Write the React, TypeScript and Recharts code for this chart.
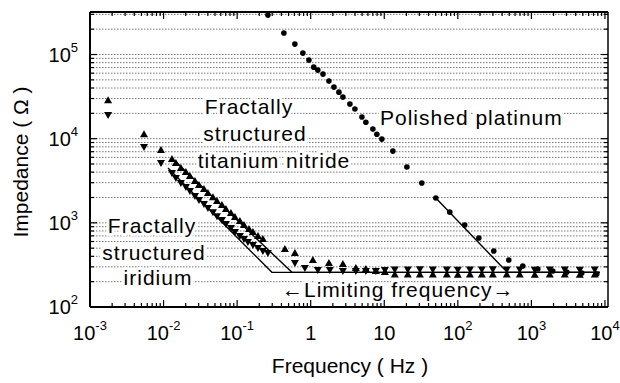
import React from 'react';
import { ComposedChart, Scatter, Line, XAxis, YAxis, CartesianGrid } from 'recharts';

const FONT = '"Liberation Sans", Arial, Helvetica, sans-serif';
const W = 620;
const H = 383;
const MARGIN = { top: 11, right: 11, left: 0, bottom: 0 };

// axis decades and labels
const xMajor = [0.001, 0.01, 0.1, 1, 10, 100, 1000, 10000];
const xLabels: [string, string][] = [
  ['10', '-3'], ['10', '-2'], ['10', '-1'], ['1', ''], ['10', ''], ['10', '2'], ['10', '3'], ['10', '4'],
];
const yMajor = [100, 1000, 10000, 100000];
const yLabels: [string, string][] = [['10', '2'], ['10', '3'], ['10', '4'], ['10', '5']];
const minorSteps = [2, 3, 4, 5, 6, 7, 8, 9];
const xDomain = [0.001, 11000];
const yDomain = [100, 320000];

const xTicks = [...xMajor, ...xMajor.slice(0, -1).flatMap((d) => minorSteps.map((m) => d * m))];
const yTicks = [...yMajor, ...yMajor.flatMap((d) => minorSteps.map((m) => d * m))].filter(
  (v) => v <= yDomain[1]
);

// polished platinum (filled circles)
const platinum = [
  { f: 0.262, z: 294000 }, { f: 0.432, z: 180000 }, { f: 0.609, z: 133000 }, { f: 0.783, z: 104000 },
  { f: 0.946, z: 85800 }, { f: 1.1, z: 70800 }, { f: 1.25, z: 65300 }, { f: 1.47, z: 58500 },
  { f: 1.77, z: 48300 }, { f: 2.07, z: 41000 }, { f: 2.42, z: 35700 }, { f: 2.74, z: 31200 },
  { f: 3.41, z: 25800 }, { f: 3.99, z: 22500 }, { f: 4.97, z: 18100 }, { f: 5.62, z: 15700 },
  { f: 7.0, z: 13000 }, { f: 7.93, z: 11300 }, { f: 9.27, z: 9890 }, { f: 13.1, z: 7120 },
  { f: 20.3, z: 4600 }, { f: 32.4, z: 2970 }, { f: 50.2, z: 1970 }, { f: 77.8, z: 1340 },
  { f: 124, z: 942 }, { f: 193, z: 660 }, { f: 308, z: 462 }, { f: 493, z: 362 },
  { f: 764, z: 307 }, { f: 1222, z: 283 }, { f: 1954, z: 268 }, { f: 3027, z: 260 },
  { f: 4842, z: 253 }, { f: 7745, z: 247 },
];

// fractally structured titanium nitride (up triangles)
const titanium = [
  { f: 0.00176, z: 28700 }, { f: 0.00542, z: 11300 }, { f: 0.00922, z: 7320 }, { f: 0.013, z: 5720 },
  { f: 0.0147, z: 5130 }, { f: 0.0172, z: 4480 }, { f: 0.0201, z: 4010 }, { f: 0.0228, z: 3600 },
  { f: 0.0267, z: 3140 }, { f: 0.0303, z: 2810 }, { f: 0.0354, z: 2520 }, { f: 0.0401, z: 2260 },
  { f: 0.0469, z: 2020 }, { f: 0.0532, z: 1820 }, { f: 0.0621, z: 1630 }, { f: 0.0704, z: 1460 },
  { f: 0.0824, z: 1310 }, { f: 0.0933, z: 1170 }, { f: 0.109, z: 1050 }, { f: 0.124, z: 942 },
  { f: 0.145, z: 844 }, { f: 0.164, z: 778 }, { f: 0.192, z: 697 }, { f: 0.224, z: 642 },
  { f: 0.446, z: 488 }, { f: 0.61, z: 438 }, { f: 1.07, z: 362 }, { f: 1.77, z: 333 },
  { f: 2.74, z: 324 }, { f: 4.11, z: 290 }, { f: 5.62, z: 283 }, { f: 7.69, z: 268 },
  { f: 10.2, z: 260 }, { f: 13.9, z: 243 }, { f: 20.9, z: 243 }, { f: 30.5, z: 244 },
  { f: 45.7, z: 243 }, { f: 70.9, z: 243 }, { f: 100, z: 242 }, { f: 146, z: 243 },
  { f: 212, z: 243 }, { f: 299, z: 244 }, { f: 463, z: 243 }, { f: 695, z: 243 },
  { f: 1112, z: 242 }, { f: 1778, z: 243 }, { f: 2843, z: 243 }, { f: 4547, z: 242 },
  { f: 7266, z: 243 },
];

// fractally structured iridium (down triangles)
const iridium = [
  { f: 0.00176, z: 19100 }, { f: 0.00542, z: 7950 }, { f: 0.00922, z: 5130 }, { f: 0.013, z: 3900 },
  { f: 0.0147, z: 3400 }, { f: 0.0172, z: 2970 }, { f: 0.0201, z: 2660 }, { f: 0.0228, z: 2390 },
  { f: 0.0267, z: 2080 }, { f: 0.0303, z: 1870 }, { f: 0.0354, z: 1670 }, { f: 0.0401, z: 1500 },
  { f: 0.0469, z: 1340 }, { f: 0.0532, z: 1200 }, { f: 0.0621, z: 1080 }, { f: 0.0704, z: 968 },
  { f: 0.0824, z: 867 }, { f: 0.0933, z: 778 }, { f: 0.109, z: 697 }, { f: 0.124, z: 642 },
  { f: 0.14, z: 591 }, { f: 0.164, z: 545 }, { f: 0.192, z: 502 }, { f: 0.224, z: 462 },
  { f: 0.262, z: 438 }, { f: 0.61, z: 333 }, { f: 0.834, z: 290 }, { f: 1.25, z: 275 },
  { f: 1.82, z: 275 }, { f: 2.74, z: 268 }, { f: 4.11, z: 268 }, { f: 5.62, z: 268 },
  { f: 7.69, z: 268 }, { f: 10.2, z: 275 }, { f: 13.9, z: 279 }, { f: 20.9, z: 279 },
  { f: 30.5, z: 280 }, { f: 45.7, z: 279 }, { f: 70.9, z: 279 }, { f: 100, z: 278 },
  { f: 146, z: 279 }, { f: 212, z: 279 }, { f: 299, z: 280 }, { f: 463, z: 279 },
  { f: 695, z: 279 }, { f: 1112, z: 278 }, { f: 1778, z: 279 }, { f: 2843, z: 279 },
  { f: 4547, z: 278 }, { f: 7266, z: 279 },
];

// fitted lines with limiting frequency plateau
const iridiumFit = [{ f: 0.0115, z: 4480 }, { f: 0.297, z: 258 }, { f: 8500, z: 258 }];
const titaniumFit = [{ f: 0.0143, z: 5420 }, { f: 0.556, z: 258 }, { f: 8500, z: 258 }];
const platinumFit = [{ f: 50.2, z: 1970 }, { f: 470, z: 258 }, { f: 8500, z: 258 }];

const isMajor = (v: number) => Math.abs(Math.log10(v) - Math.round(Math.log10(v))) < 1e-6;
const tickLen = (v: number) => (isMajor(v) ? 7 : 4);

const BottomTick = (props: any) => {
  const { x, y, payload } = props;
  const v = payload.value;
  const i = xMajor.findIndex((m) => Math.abs(Math.log10(m) - Math.log10(v)) < 1e-6);
  return (
    <g>
      <line x1={x} x2={x} y1={y} y2={y - tickLen(v)} stroke="#000" strokeWidth={1.2} />
      {i >= 0 && (
        <text x={x} y={y + 33} textAnchor="middle" fontSize={20} fontFamily={FONT} fill="#000">
          {xLabels[i][0]}
          {xLabels[i][1] && (
            <tspan dy={-10} fontSize={13}>
              {xLabels[i][1]}
            </tspan>
          )}
        </text>
      )}
    </g>
  );
};

const TopTick = (props: any) => {
  const { x, y, payload } = props;
  return <line x1={x} x2={x} y1={y} y2={y + tickLen(payload.value)} stroke="#000" strokeWidth={1.2} />;
};

const LeftTick = (props: any) => {
  const { x, y, payload } = props;
  const v = payload.value;
  const i = yMajor.findIndex((m) => Math.abs(Math.log10(m) - Math.log10(v)) < 1e-6);
  return (
    <g>
      <line x1={x} x2={x + tickLen(v)} y1={y} y2={y} stroke="#000" strokeWidth={1.2} />
      {i >= 0 && (
        <text x={x - 12} y={y + 7} textAnchor="end" fontSize={20} fontFamily={FONT} fill="#000">
          {yLabels[i][0]}
          <tspan dy={-10} fontSize={13}>
            {yLabels[i][1]}
          </tspan>
        </text>
      )}
    </g>
  );
};

const RightTick = (props: any) => {
  const { x, y, payload } = props;
  return <line x1={x} x2={x - tickLen(payload.value)} y1={y} y2={y} stroke="#000" strokeWidth={1.2} />;
};

const TriUp = (p: any) => (
  <polygon points={`${p.cx},${p.cy - 4} ${p.cx - 4},${p.cy + 3} ${p.cx + 4},${p.cy + 3}`} fill="#000" />
);
const TriDown = (p: any) => (
  <polygon points={`${p.cx},${p.cy + 4} ${p.cx - 4},${p.cy - 3} ${p.cx + 4},${p.cy - 3}`} fill="#000" />
);
const Dot = (p: any) => <circle cx={p.cx} cy={p.cy} r={2.8} fill="#000" />;
const Nothing = () => <g />;

const halo = {
  stroke: '#fff',
  strokeWidth: 6,
  paintOrder: 'stroke' as const,
  strokeLinejoin: 'round' as const,
};

const Annotations = () => (
  <svg width={W} height={H} style={{ position: 'absolute', left: 0, top: 0 }}>
    <g fontFamily={FONT} fontSize={21} fill="#000" letterSpacing={1}>
      <text x={249} y={114} textAnchor="middle" {...halo}>Fractally</text>
      <text x={255} y={141} textAnchor="middle" {...halo}>structured</text>
      <text x={274} y={168} textAnchor="middle" {...halo}>titanium nitride</text>
      <text x={152} y={233} textAnchor="middle" {...halo}>Fractally</text>
      <text x={154} y={260} textAnchor="middle" {...halo}>structured</text>
      <text x={158} y={285} textAnchor="middle" {...halo}>iridium</text>
      <text x={380} y={125} {...halo}>Polished platinum</text>
      <text x={282} y={297} {...halo}>←Limiting frequency→</text>
    </g>
    <g fontFamily={FONT} fontSize={21} fill="#000">
      <text x={350} y={373} textAnchor="middle">Frequency ( Hz )</text>
      <text x={28} y={162} textAnchor="middle" transform="rotate(-90 28 162)">Impedance ( Ω )</text>
    </g>
  </svg>
);

const logAxis = { type: 'number' as const, scale: 'log' as const, allowDataOverflow: true, interval: 0 as const };
const frame = { stroke: '#000', strokeWidth: 2 };

export default function App() {
  return (
    <div style={{ position: 'absolute', left: 0, top: 0, width: W, height: H, background: '#fff' }}>
      {/* dotted grid, kept underneath the text halos */}
      <div style={{ position: 'absolute', left: 0, top: 0 }}>
        <ComposedChart width={W} height={H} margin={MARGIN}>
          <CartesianGrid vertical={false} stroke="#777" strokeDasharray="1.5 1.5" strokeWidth={1} />
          <XAxis dataKey="f" {...logAxis} domain={xDomain} ticks={xTicks} height={76}
            tick={Nothing} axisLine={false} tickLine={false} />
          <XAxis xAxisId="top" orientation="top" dataKey="f" {...logAxis} domain={xDomain} ticks={xTicks} height={1}
            tick={Nothing} axisLine={false} tickLine={false} />
          <YAxis dataKey="z" {...logAxis} domain={yDomain} ticks={yTicks} width={90}
            tick={Nothing} axisLine={false} tickLine={false} />
          <YAxis yAxisId="right" orientation="right" dataKey="z" {...logAxis} domain={yDomain} ticks={yTicks} width={1}
            tick={Nothing} axisLine={false} tickLine={false} />
          <Scatter data={platinum} shape={Nothing} isAnimationActive={false} />
          <Scatter xAxisId="top" data={platinum} shape={Nothing} isAnimationActive={false} />
          <Scatter yAxisId="right" data={platinum} shape={Nothing} isAnimationActive={false} />
        </ComposedChart>
      </div>
      <Annotations />
      {/* data, fits and framed axes */}
      <div style={{ position: 'absolute', left: 0, top: 0 }}>
        <ComposedChart width={W} height={H} margin={MARGIN}>
          <XAxis dataKey="f" {...logAxis} domain={xDomain} ticks={xTicks} height={76}
            tickSize={0} tickMargin={0} tickLine={false} axisLine={frame} tick={<BottomTick />} />
          <XAxis xAxisId="top" orientation="top" dataKey="f" {...logAxis} domain={xDomain} ticks={xTicks} height={1}
            tickSize={0} tickMargin={0} tickLine={false} axisLine={frame} tick={<TopTick />} />
          <YAxis dataKey="z" {...logAxis} domain={yDomain} ticks={yTicks} width={90}
            tickSize={0} tickMargin={0} tickLine={false} axisLine={frame} tick={<LeftTick />} />
          <YAxis yAxisId="right" orientation="right" dataKey="z" {...logAxis} domain={yDomain} ticks={yTicks} width={1}
            tickSize={0} tickMargin={0} tickLine={false} axisLine={{ stroke: '#000', strokeWidth: 1.5 }}
            tick={<RightTick />} />
          <Line data={iridiumFit} dataKey="z" type="linear" stroke="#000" strokeWidth={1.4} dot={false} isAnimationActive={false} />
          <Line data={titaniumFit} dataKey="z" type="linear" stroke="#000" strokeWidth={1.4} dot={false} isAnimationActive={false} />
          <Line data={platinumFit} dataKey="z" type="linear" stroke="#000" strokeWidth={1.4} dot={false} isAnimationActive={false} />
          <Scatter data={titanium} shape={TriUp} isAnimationActive={false} />
          <Scatter data={iridium} shape={TriDown} isAnimationActive={false} />
          <Scatter data={platinum} shape={Dot} isAnimationActive={false} />
          <Scatter xAxisId="top" data={platinum} shape={Nothing} isAnimationActive={false} />
          <Scatter yAxisId="right" data={platinum} shape={Nothing} isAnimationActive={false} />
        </ComposedChart>
      </div>
    </div>
  );
}
